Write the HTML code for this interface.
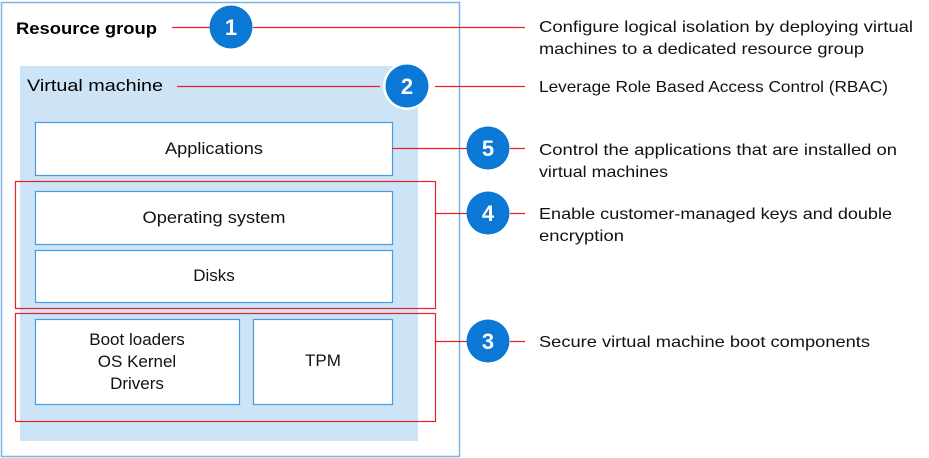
<!DOCTYPE html>
<html><head><style>html,body{margin:0;padding:0;background:#fff}svg{display:block}</style></head>
<body>
<svg width="929" height="458" viewBox="0 0 929 458" xmlns="http://www.w3.org/2000/svg" font-family="'Liberation Sans', sans-serif">
<rect x="1.5" y="2.5" width="458" height="454" fill="#fff" stroke="#7cb5e6" stroke-width="1.5"/>
<rect x="20" y="66" width="398" height="375" fill="#cde3f6"/>
<g fill="#fff" stroke="#4a9ae0" stroke-width="1.2">
<rect x="35.5" y="122.5" width="357" height="53"/>
<rect x="35.5" y="191.5" width="357" height="53"/>
<rect x="35.5" y="250.5" width="357" height="52"/>
<rect x="35.5" y="319.5" width="204" height="85"/>
<rect x="253.5" y="319.5" width="139" height="85"/>
</g>
<g fill="none" stroke="#e8202a" stroke-width="1.2">
<rect x="15.5" y="181.5" width="420" height="127"/>
<rect x="15.5" y="313.5" width="420" height="108"/>
<path d="M172 27.5H210M253 27.5H525M177 86.5H380M435 86.5H525M392 148.5H467M510 148.5H525M435 213.5H467M510 213.5H525M435 341.5H467M510 341.5H525"/>
</g>
<circle cx="407" cy="86" r="24" fill="#fff"/>
<g fill="#0a78d4">
<circle cx="231" cy="27" r="21.5"/>
<circle cx="407" cy="86" r="21.5"/>
<circle cx="488" cy="148" r="21.5"/>
<circle cx="488" cy="213" r="21.5"/>
<circle cx="488" cy="341" r="21.5"/>
</g>
<g fill="#fff" font-size="22" font-weight="bold" text-anchor="middle">
<text x="231" y="35">1</text><text x="407" y="94">2</text><text x="488" y="156">5</text><text x="488" y="221">4</text><text x="488" y="349">3</text>
</g>
<text x="16" y="34" font-size="17" font-weight="bold" textLength="141" lengthAdjust="spacingAndGlyphs">Resource group</text>
<text x="27" y="91" font-size="17" textLength="136" lengthAdjust="spacingAndGlyphs">Virtual machine</text>
<g font-size="17" text-anchor="middle" fill="#111">
<text x="214" y="154" textLength="98" lengthAdjust="spacingAndGlyphs">Applications</text>
<text x="214" y="223" textLength="143" lengthAdjust="spacingAndGlyphs">Operating system</text>
<text x="214" y="281">Disks</text>
<text x="137" y="345">Boot loaders</text>
<text x="137" y="367">OS Kernel</text>
<text x="137" y="389">Drivers</text>
<text x="323" y="366">TPM</text>
</g>
<g font-size="16" fill="#111">
<text x="539" y="32" textLength="374" lengthAdjust="spacingAndGlyphs">Configure logical isolation by deploying virtual</text>
<text x="539" y="54" textLength="325" lengthAdjust="spacingAndGlyphs">machines to a dedicated resource group</text>
<text x="539" y="92" textLength="349" lengthAdjust="spacingAndGlyphs">Leverage Role Based Access Control (RBAC)</text>
<text x="539" y="155" textLength="358" lengthAdjust="spacingAndGlyphs">Control the applications that are installed on</text>
<text x="539" y="177" textLength="129" lengthAdjust="spacingAndGlyphs">virtual machines</text>
<text x="539" y="219" textLength="353" lengthAdjust="spacingAndGlyphs">Enable customer-managed keys and double</text>
<text x="539" y="241" textLength="85" lengthAdjust="spacingAndGlyphs">encryption</text>
<text x="539" y="347" textLength="331" lengthAdjust="spacingAndGlyphs">Secure virtual machine boot components</text>
</g>
</svg>
</body></html>
